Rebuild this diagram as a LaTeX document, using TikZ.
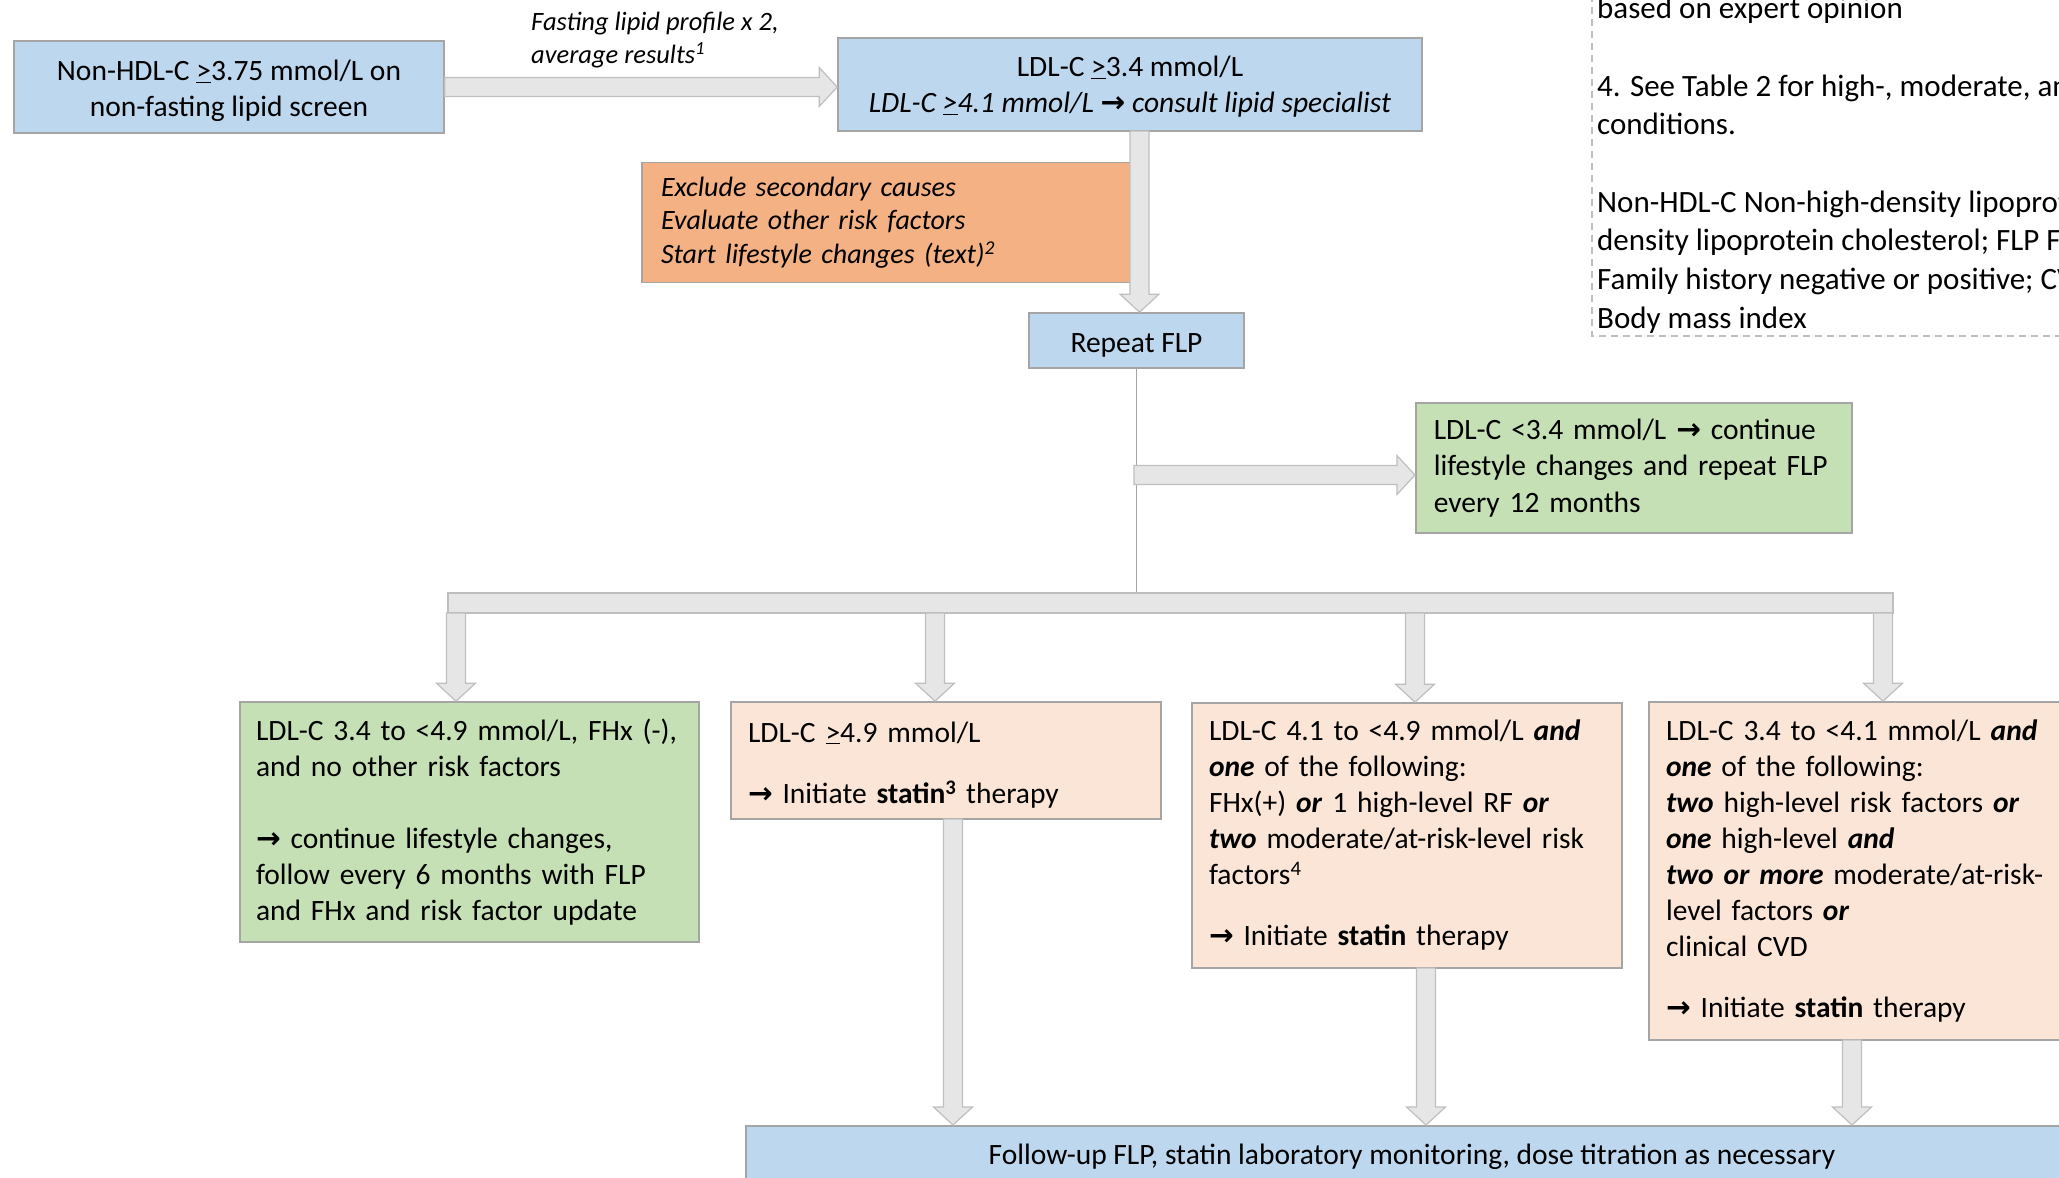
\documentclass[tikz,border=0pt]{standalone}
\usepackage{fontspec}
\setmainfont{Carlito}
\newfontfamily\arrowfont{DejaVu Sans}
\usetikzlibrary{calc}
\definecolor{blueF}{HTML}{BDD7EE}
\definecolor{orangeF}{HTML}{F4B183}
\definecolor{greenF}{HTML}{C5E0B4}
\definecolor{pinkF}{HTML}{FBE5D6}
\definecolor{edgeC}{HTML}{A5A5A5}
\definecolor{arrowF}{HTML}{E7E6E6}
\definecolor{arrowC}{HTML}{BFBFBF}
\newcommand{\boxfont}{\fontsize{29.5}{36}\selectfont}
\newcommand{\labelfont}{\fontsize{26.5}{32.5}\selectfont}
\newcommand{\midfont}{\fontsize{28}{33.5}\selectfont}
\newcommand{\notefont}{\fontsize{31}{38.7}\selectfont}
\newcommand{\atleast}{\underline{>}}
\newcommand{\goto}{{\arrowfont\bfseries\char"2192}}
\newcommand{\bi}[1]{\textbf{\textit{#1}}}
\newcommand{\lift}[1][28pt]{\rule{0pt}{#1}}
\newcommand{\downblk}[2]{%
  \draw[blk] let \p1=(#1), \p2=(#2) in
    (\x1-9.5pt,\y1) -- (\x1-9.5pt,\y2+18pt) -- (\x1-19.5pt,\y2+18pt) -- (\x1,\y2)
    -- (\x1+19.5pt,\y2+18pt) -- (\x1+9.5pt,\y2+18pt) -- (\x1+9.5pt,\y1) -- cycle;}
\newcommand{\rightblk}[2]{%
  \draw[blk] let \p1=(#1), \p2=(#2) in
    (\x1,\y1+9.5pt) -- (\x2-18pt,\y1+9.5pt) -- (\x2-18pt,\y1+19.5pt) -- (\x2,\y1)
    -- (\x2-18pt,\y1-19.5pt) -- (\x2-18pt,\y1-9.5pt) -- (\x1,\y1-9.5pt) -- cycle;}

\begin{document}
\begin{tikzpicture}[x=1pt,y=-1pt,
    box/.style={draw=edgeC, line width=1.6pt, inner ysep=0pt, font=\boxfont},
    bluebox/.style={box, fill=blueF, align=center},
    orangebox/.style={box, fill=orangeF, align=left},
    greenbox/.style={box, fill=greenF, align=left},
    pinkbox/.style={box, fill=pinkF, align=left},
    lower/.style={execute at begin node={\rule{0pt}{29pt}}},
    blk/.style={draw=arrowC, fill=arrowF, line width=1.2pt},
    link/.style={draw=edgeC, line width=1.5pt},
    notedash/.style={draw=arrowC, line width=1.3pt, dash pattern=on 7pt off 5pt}]

  \useasboundingbox (0,0) rectangle (2059,1178);
  \clip (0,0) rectangle (2059,1178);

  % top row
  \node[bluebox, minimum width=430pt, minimum height=92pt] (screen) at (229,87)
    {\lift Non-HDL-C \atleast3.75 mmol/L on\\non-fasting lipid screen};
  \node[font=\labelfont\itshape, align=left, anchor=west, inner sep=0pt] (fasting) at (531,40)
    {Fasting lipid profile x 2,\\average results\textsuperscript{1}};
  \node[bluebox, minimum width=584pt, minimum height=93pt] (ldl34) at (1130,84.5)
    {\lift[25pt]LDL-C \atleast3.4 mmol/L\\\textit{LDL-C \atleast4.1 mmol/L \goto\ consult lipid specialist}};
  \node[orangebox, font=\midfont\itshape, text width=451pt, inner xsep=19pt, minimum height=120pt] (exclude) at (886.5,222.5)
    {Exclude secondary causes\\Evaluate other risk factors\\Start lifestyle changes (text)\textsuperscript{2}};
  \node[bluebox, lower, minimum width=215pt, minimum height=55pt] (repeat) at (1136.5,340.5) {Repeat FLP};
  \node[greenbox, font=\fontsize{29.5}{36.8}\selectfont, text width=400pt, inner xsep=18pt, minimum height=130pt] (ldllow) at (1633.75,468)
    {LDL-C <3.4 mmol/L \goto\ continue\\lifestyle changes and repeat FLP\\every 12 months};
  \node[blk, minimum width=1445pt, minimum height=20pt, inner sep=0pt] (bar) at (1170.5,603) {};

  % bottom row
  \node[greenbox, text width=427pt, inner xsep=16pt, minimum height=240pt] (lowrisk) at (469.5,822)
    {LDL-C 3.4 to <4.9 mmol/L, FHx (-),\\and no other risk factors\\[36pt]
     \goto\ continue lifestyle changes,\\follow every 6 months with FLP\\and FHx and risk factor update};
  \node[pinkbox, lower, text width=396pt, inner xsep=17pt, minimum height=117pt] (veryhigh) at (946,760.5)
    {LDL-C \atleast4.9 mmol/L\\[25pt]\goto\ Initiate \textbf{statin\textsuperscript{3}} therapy};
  \node[pinkbox, text width=396pt, inner xsep=17pt, minimum height=265pt] (moderate) at (1407,835.5)
    {LDL-C 4.1 to <4.9 mmol/L \bi{and}\\\bi{one} of the following:\\FHx(+) \bi{or} 1 high-level RF \bi{or}\\
     \bi{two} moderate/at-risk-level risk\\factors\textsuperscript{4}\\[25pt]\goto\ Initiate \textbf{statin} therapy};
  \node[pinkbox, text width=396pt, inner xsep=17pt, minimum height=338pt] (highrisk) at (1864,871)
    {LDL-C 3.4 to <4.1 mmol/L \bi{and}\\\bi{one} of the following:\\\bi{two} high-level risk factors \bi{or}\\
     \bi{one} high-level \bi{and}\\\bi{two or more} moderate/at-risk-\\level factors \bi{or}\\clinical CVD\\[25pt]
     \goto\ Initiate \textbf{statin} therapy};
  \node[bluebox, anchor=north, minimum width=1332pt, text height=39pt, text depth=25pt] (follow) at (1412,1125)
    {Follow-up FLP, statin laboratory monitoring, dose titration as necessary};

  % notes, cut by the page edge
  \draw[notedash] (1592,-5) -- (1592,336) -- (2070,336);
  \node[font=\notefont, align=left, anchor=north west, inner sep=0pt] (notes) at (1597,-3)
    {based on expert opinion\\[38.7pt]4. See Table 2 for high-, moderate, and\\conditions.\\[38.7pt]
     Non-HDL-C Non-high-density lipoprotein\\density lipoprotein cholesterol; FLP Fasting\\
     Family history negative or positive; CVD\\Body mass index};

  % connectors
  \coordinate (a1) at (1139.5,131);
  \coordinate (a2) at (1134,475);
  \coordinate (b1) at (456,613);
  \coordinate (b2) at (935,613);
  \coordinate (b3) at (1415,613);
  \coordinate (b4) at (1883,613);
  \coordinate (c2) at (953,819);
  \coordinate (c3) at (1426,968);
  \coordinate (c4) at (1852,1040);

  \rightblk{screen.east}{screen.east -| ldl34.west}
  \downblk{a1}{a1 |- repeat.north}
  \draw[link] (repeat.south) -- (repeat.south |- bar.north);
  \rightblk{a2}{a2 -| ldllow.west}
  \downblk{b1}{b1 |- lowrisk.north}
  \downblk{b2}{b2 |- veryhigh.north}
  \downblk{b3}{b3 |- moderate.north}
  \downblk{b4}{b4 |- highrisk.north}
  \downblk{c2}{c2 |- follow.north}
  \downblk{c3}{c3 |- follow.north}
  \downblk{c4}{c4 |- follow.north}
\end{tikzpicture}
\end{document}
